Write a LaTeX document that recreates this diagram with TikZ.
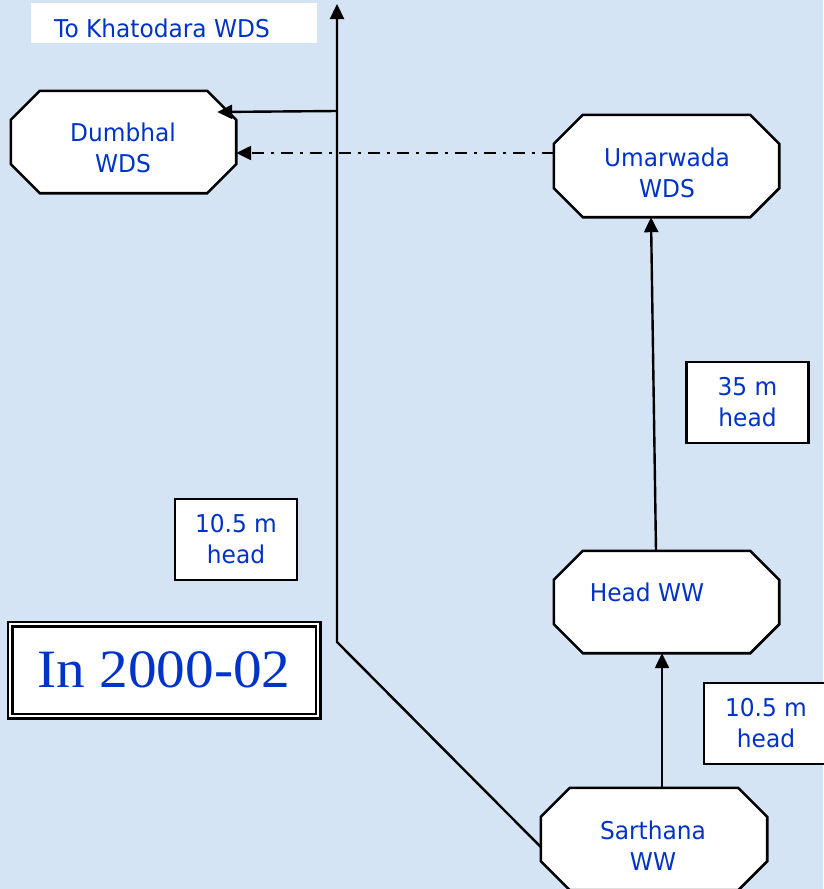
\documentclass[tikz,border=0pt]{standalone}
\usepackage{fontspec}
\usetikzlibrary{arrows.meta,calc}
\newfontfamily\labelsans[FakeStretch=0.95]{DejaVu Sans}
\newfontfamily\yearserif[FakeStretch=1.06]{Liberation Serif}
\definecolor{paper}{RGB}{212,228,245}
\definecolor{ink}{RGB}{0,51,204}
\tikzset{
  octo/.style={rectangle, minimum width=225pt, minimum height=102pt, inner sep=0pt},
  octoline/.style={draw=black, fill=white, line width=2.6pt, line join=miter},
  caption/.style={text=ink, font=\labelsans\fontsize{24.5}{31}\selectfont, align=center, inner sep=0pt},
  headbox/.style={draw=black, fill=white, line width=2.2pt, minimum width=122pt,
    minimum height=81pt, inner sep=0pt, text=ink, align=center,
    font=\labelsans\fontsize{24.5}{31}\selectfont},
  pipe/.style={line width=2.4pt, -{Triangle[length=15pt,width=14pt]}},
  dashdotline/.style={dash pattern=on 12pt off 7pt on 3pt off 7pt},
  yearbox/.style={draw=black, double=white, line width=2.5pt, double distance=2pt,
    fill=white, minimum width=308pt, minimum height=92pt, inner sep=0pt,
    text=ink, font=\yearserif\fontsize{54}{60}\selectfont},
}
\begin{document}
\begin{tikzpicture}[x=1pt, y=-1pt]
  \useasboundingbox (0,0) rectangle (823,889);
  \fill[paper] (0,0) rectangle (823,889);

  % stations (empty frames, outlines drawn below)
  \node[octo] (dumbhal)  at (123.5,142) {};
  \node[octo] (umarwada) at (666.5,166) {};
  \node[octo] (head)     at (666.5,602) {};
  \node[octo, minimum width=226pt] (sarthana) at (654,839) {};

  \foreach \n in {dumbhal,umarwada,head,sarthana}{
    \draw[octoline] ([xshift=29pt]\n.north west) -- ([xshift=-29pt]\n.north east)
      -- ([yshift=-29pt]\n.north east) -- ([yshift=29pt]\n.south east)
      -- ([xshift=-29pt]\n.south east) -- ([xshift=29pt]\n.south west)
      -- ([yshift=29pt]\n.south west) -- ([yshift=-29pt]\n.north west) -- cycle;
  }

  % destination label at the top
  \node[fill=white, minimum width=286pt, minimum height=40pt, inner sep=0pt] (khatbox) at (174,23) {};
  \node[caption] (khat) at (162,28) {To Khatodara WDS};

  % head boxes
  \node[headbox] (h35)  at (747.5,402.5) {35 m\\head};
  \node[headbox] (h10a) at (236,539.5) {10.5 m\\head};
  \node[headbox, minimum width=124pt] (h10b) at (766,723.5) {10.5 m\\head};

  % year box
  \node[yearbox] (year) at (164,670) {In 2000-02};

  % pipelines
  \coordinate (top)  at (337,4);
  \coordinate (bend) at (337,642);
  \coordinate (tee)  at (337,111);
  \draw[pipe] ($(sarthana.west)+(0,8)$) -- (bend) -- (top);
  \draw[pipe] (tee) -- ($(dumbhal.east)+(-19,-30)$);
  \draw[pipe, dashdotline] ($(umarwada.west)+(0,-13)$) -- ($(dumbhal.east)+(0,11)$);
  \draw[pipe] ($(head.north)+(-10.5,0)$) -- ($(umarwada.south)+(-15.5,0)$);
  \draw[pipe] ($(sarthana.north)+(8,0)$) -- ($(head.south)+(-4.5,0)$);

  % station names
  \node[caption] (dumbhalT)  at (123,148) {Dumbhal\\WDS};
  \node[caption] (umarwadaT) at (667,172.5) {Umarwada\\WDS};
  \node[caption] (headT)     at (647,592.5) {Head WW};
  \node[caption] (sarthanaT) at (653,846) {Sarthana\\WW};
\end{tikzpicture}
\end{document}
